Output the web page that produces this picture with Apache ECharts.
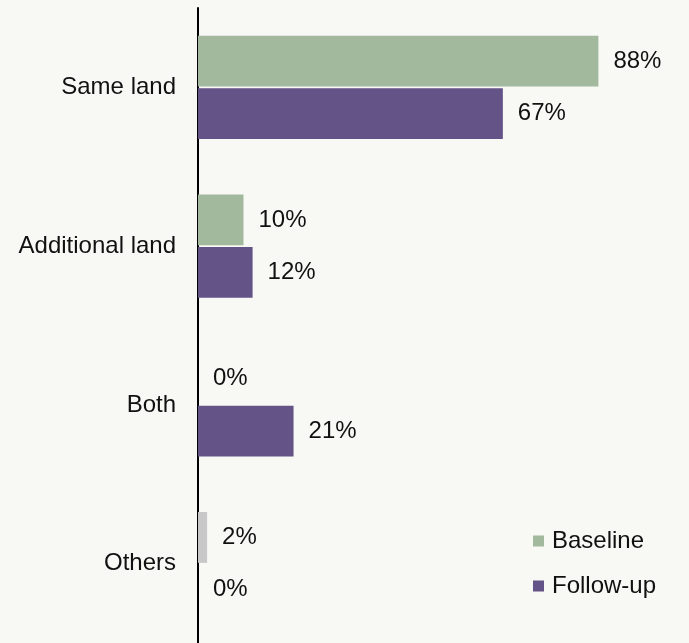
<!DOCTYPE html>
<html><head><meta charset="utf-8">
<script src="https://cdn.jsdelivr.net/npm/echarts@6/dist/echarts.min.js"></script>
<style>html,body{margin:0;padding:0;background:#f8f8f4;}#c{width:689px;height:643px;}</style>
</head><body><div id="c"></div>
<script>
const categories = ['Same land', 'Additional land', 'Both', 'Others'];
const baseline = [88, 10, 0, 2];
const followUp = [67, 12, 21, 0];
const seriesNames = ['Baseline', 'Follow-up'];

const green = '#a3b99e', purple = '#635387', gray = '#c8c8c8';
const font = 'Liberation Sans, Arial, sans-serif';
const chart = echarts.init(document.getElementById('c'));
const lbl = {show: true, position: 'right', distance: 15, formatter: '{c}%', color: '#111', fontSize: 24, fontFamily: font};
chart.setOption({
  backgroundColor: '#f8f8f4',
  animation: false,
  grid: {left: 198, top: 8, width: 455, bottom: 0},
  legend: {
    orient: 'vertical', left: 528, top: 524, itemWidth: 11, itemHeight: 11, itemGap: 21,
    icon: 'rect',
    textStyle: {fontSize: 24, color: '#111', fontFamily: font, padding: [0, 0, 0, 3]},
    data: seriesNames
  },
  xAxis: {type: 'value', min: 0, max: 100, show: false},
  yAxis: {
    type: 'category', data: categories, inverse: true,
    axisLine: {show: true, lineStyle: {color: '#000', width: 2}},
    axisTick: {show: false},
    axisLabel: {fontSize: 24, color: '#111', margin: 22, fontFamily: font}
  },
  series: [
    {name: seriesNames[0], type: 'bar', data: baseline.map((v, i) => ({value: v, itemStyle: {color: i === 3 ? gray : green}})),
     itemStyle: {color: green}, barGap: '3%', barCategoryGap: '35%', label: lbl},
    {name: seriesNames[1], type: 'bar', data: followUp,
     itemStyle: {color: purple}, label: lbl}
  ]
});
</script></body></html>
